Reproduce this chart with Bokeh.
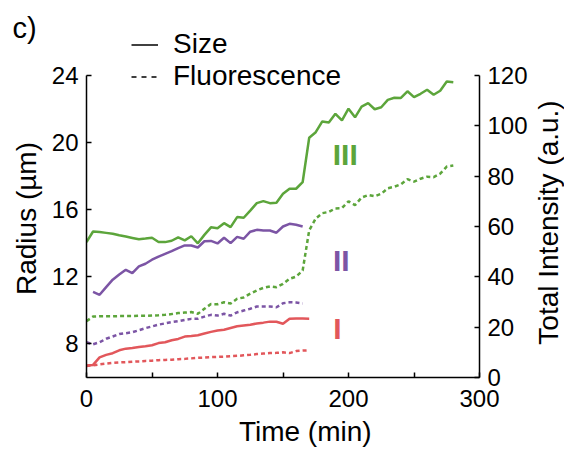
import math
from bokeh.plotting import figure
from bokeh.layouts import row
from bokeh.models import Range1d, LinearAxis, FixedTicker, Legend, LegendItem
from bokeh.core.properties import value
from bokeh.embed import file_html
from bokeh.resources import INLINE

# ---------------- data ----------------
green_t = [0, 5, 10, 15, 20, 25, 30, 35, 40, 45, 50, 55, 60, 65, 70, 75, 80, 85, 90, 95,
           100, 105, 110, 115, 120, 125, 130, 135, 140, 145, 150, 155, 160, 165, 170, 175,
           180, 185, 190, 195, 200, 205, 210, 215, 220, 225, 230, 235, 240, 245, 250, 255,
           260, 265, 270, 275, 280]
green_size = [14.07, 14.70, 14.67, 14.62, 14.57, 14.48, 14.40, 14.32, 14.24, 14.28, 14.33,
              14.08, 14.07, 14.15, 14.35, 14.17, 14.42, 14.00, 14.50, 14.95, 14.90, 15.20,
              14.96, 15.56, 15.52, 15.95, 16.39, 16.51, 16.39, 16.41, 16.95, 17.25, 17.25,
              17.64, 20.29, 20.62, 21.26, 21.20, 21.72, 21.32, 22.02, 21.51, 22.15, 22.35,
              21.99, 22.11, 22.55, 22.67, 22.66, 23.06, 22.71, 22.91, 23.15, 22.85, 23.09,
              23.64, 23.60]
green_fluor = [22.4, 24.2, 24.3, 24.3, 24.3, 24.4, 24.4, 24.4, 24.5, 24.5, 24.6, 24.7, 24.9,
               25.2, 25.6, 25.8, 26.0, 25.3, 27.3, 29.2, 29.1, 29.9, 29.4, 31.3, 31.8, 33.3,
               34.6, 35.6, 36.2, 35.9, 37.2, 39.2, 40.1, 42.5, 58.5, 63.2, 65.3, 65.8, 67.2,
               67.3, 70.0, 68.5, 71.5, 72.5, 72.0, 73.0, 75.2, 75.8, 76.8, 78.8, 77.8, 79.0,
               79.8, 79.6, 81.0, 83.8, 84.2]

purple_size_t = [5, 10, 15, 20, 25, 30, 35, 40, 45, 50, 55, 60, 65, 70, 75, 80, 85, 90, 95,
                 100, 105, 110, 115, 120, 125, 130, 135, 140, 145, 150, 155, 160, 165]
purple_size = [11.10, 10.93, 11.39, 11.83, 12.14, 12.42, 12.22, 12.62, 12.78, 13.02, 13.21,
               13.37, 13.53, 13.71, 13.87, 13.87, 13.75, 14.12, 14.14, 13.99, 14.33, 14.01,
               14.38, 14.27, 14.69, 14.80, 14.76, 14.76, 14.63, 15.00, 15.16, 15.10, 15.00]
purple_fluor_t = [0, 5, 10, 15, 20, 25, 30, 35, 40, 45, 50, 55, 60, 65, 70, 75, 80, 85, 90,
                  95, 100, 105, 110, 115, 120, 125, 130, 135, 140, 145, 150, 155, 160, 165]
purple_fluor = [14.0, 13.2, 14.0, 15.4, 16.3, 17.3, 17.6, 18.0, 18.8, 19.6, 20.3, 21.0, 21.5,
                22.0, 22.4, 22.9, 23.3, 23.3, 24.2, 24.9, 24.6, 25.3, 24.6, 25.9, 26.6, 27.3,
                28.2, 28.2, 28.2, 27.9, 29.5, 29.9, 29.8, 29.4]

red_t = [0, 5, 10, 15, 20, 25, 30, 35, 40, 45, 50, 55, 60, 65, 70, 75, 80, 85, 90, 95, 100,
         105, 110, 115, 120, 125, 130, 135, 140, 145, 150, 155, 160, 165, 170]
red_size = [6.72, 6.75, 7.20, 7.35, 7.45, 7.62, 7.72, 7.76, 7.82, 7.86, 7.92, 8.05, 8.10,
            8.22, 8.30, 8.44, 8.47, 8.52, 8.62, 8.72, 8.80, 8.85, 8.95, 9.05, 9.10, 9.15,
            9.22, 9.27, 9.33, 9.32, 9.20, 9.50, 9.52, 9.51, 9.50]
red_fluor = [4.6, 4.8, 5.2, 5.5, 5.8, 6.0, 6.1, 6.3, 6.4, 6.6, 6.7, 6.9, 7.0, 7.1, 7.3, 7.4,
             7.6, 7.8, 7.9, 8.1, 8.2, 8.3, 8.5, 8.6, 8.8, 9.0, 9.3, 9.5, 9.7, 9.8, 10.0, 9.7,
             10.5, 10.7, 10.8]

group_labels = ["III", "II", "I"]
group_label_t = [197.5, 194.5, 191.5]
group_label_r = [19.3, 12.95, 8.9]

x_ticks = [0, 100, 200, 300]
x_minor = [50, 150, 250]
left_ticks = [8, 12, 16, 20, 24]
right_ticks = [0, 20, 40, 60, 80, 100, 120]
x_label_pos = [167]  # where the "Time (min)" caption is centred (min)

GREEN = "#5ca53b"
PURPLE = "#7c55a5"
RED = "#e2575b"
FONT = "Liberation Sans"
TICK_FS = "24px"
LABEL_FS = "28px"

# ---------------- layout geometry (px) ----------------
W_TOTAL, H_TOTAL = 564, 451
LEFT_W, RIGHT_W = 44, 34
MAIN_W = W_TOTAL - LEFT_W - RIGHT_W
FRAME_LEFT, FRAME_RIGHT = 86, 479          # page x of the frame
FRAME_TOP, AXIS_TOP, FRAME_BOTTOM = 4, 75, 377   # page y
BORDER_TOP, BORDER_BOTTOM = FRAME_TOP, H_TOTAL - FRAME_BOTTOM

ext = (AXIS_TOP - FRAME_TOP) / (FRAME_BOTTOM - AXIS_TOP)
y_lo, y_hi = 6, 24
f_lo, f_hi = 0, 120

p = figure(width=MAIN_W, height=H_TOTAL,
           x_range=Range1d(0, 300),
           y_range=Range1d(y_lo, y_hi + ext * (y_hi - y_lo)),
           output_backend="svg", toolbar_location=None,
           x_axis_location=None, y_axis_location=None,
           min_border_left=FRAME_LEFT - LEFT_W,
           min_border_right=LEFT_W + MAIN_W - FRAME_RIGHT,
           min_border_top=BORDER_TOP,
           min_border_bottom=BORDER_BOTTOM)
p.extra_y_ranges = {"f": Range1d(f_lo, f_hi + ext * (f_hi - f_lo))}
p.xgrid.visible = False
p.ygrid.visible = False
p.outline_line_color = None
p.background_fill_color = "white"
p.border_fill_color = "white"


def style_axis(ax):
    ax.axis_line_color = "black"
    ax.axis_line_width = 1.5
    ax.major_tick_line_color = "black"
    ax.major_tick_line_width = 1.5
    ax.major_tick_in = 5
    ax.major_tick_out = 0
    ax.minor_tick_line_color = "black"
    ax.minor_tick_line_width = 1.5
    ax.minor_tick_in = 5
    ax.minor_tick_out = 0
    ax.major_label_text_font = FONT
    ax.major_label_text_font_size = TICK_FS
    ax.major_label_text_color = "black"


xa = LinearAxis(ticker=FixedTicker(ticks=x_ticks, minor_ticks=x_minor))
style_axis(xa)
xa.major_label_standoff = 12
p.add_layout(xa, "below")

# caption of the time axis, drawn as a single tick label so that it can sit off-centre
xcap = LinearAxis(ticker=FixedTicker(ticks=x_label_pos, minor_ticks=[]),
                  major_label_overrides={x_label_pos[0]: "Time (min)"})
xcap.axis_line_color = None
xcap.major_tick_line_color = None
xcap.minor_tick_line_color = None
xcap.major_label_standoff = 0
xcap.major_label_text_font = FONT
xcap.major_label_text_font_size = LABEL_FS
xcap.major_label_text_color = "black"
p.add_layout(xcap, "below")

ya = LinearAxis(ticker=FixedTicker(ticks=left_ticks), bounds=(y_lo, y_hi))
style_axis(ya)
ya.major_label_standoff = 8
p.add_layout(ya, "left")

ra = LinearAxis(y_range_name="f", ticker=FixedTicker(ticks=right_ticks), bounds=(f_lo, f_hi))
style_axis(ra)
ra.major_label_standoff = 8
p.add_layout(ra, "right")

# ---------------- data lines ----------------
LW = 2.5
p.line(green_t, green_size, line_color=GREEN, line_width=LW)
p.line(purple_size_t, purple_size, line_color=PURPLE, line_width=LW)
p.line(red_t, red_size, line_color=RED, line_width=LW)
p.line(green_t, green_fluor, y_range_name="f", line_color=GREEN, line_width=LW, line_dash="4 3")
p.line(purple_fluor_t, purple_fluor, y_range_name="f", line_color=PURPLE, line_width=LW, line_dash="4 3")
p.line(red_t, red_fluor, y_range_name="f", line_color=RED, line_width=LW, line_dash="4 3")

p.text(x=group_label_t, y=group_label_r, text=group_labels,
       text_color=[GREEN, PURPLE, RED], text_font=value(FONT), text_font_size="30px",
       text_font_style="bold", text_align="center", text_baseline="middle")

# ---------------- legend (style keys only, no visible data) ----------------
nan = float("nan")
r_solid = p.line(x=[nan], y=[nan], line_color="black", line_width=1.5)
r_dash = p.line(x=[nan], y=[nan], line_color="black", line_width=1.5, line_dash="5 5")
legend = Legend(items=[LegendItem(label="Size", renderers=[r_solid]),
                       LegendItem(label="Fluorescence", renderers=[r_dash])],
                location=(131 - FRAME_LEFT, FRAME_BOTTOM - 92), padding=0, margin=0, spacing=-7,
                glyph_width=27, glyph_height=29, label_height=29, label_standoff=15,
                label_text_font=FONT, label_text_font_size=LABEL_FS, label_text_color="black",
                background_fill_alpha=0, border_line_color=None)
p.add_layout(legend, "center")


def side_fig(width):
    # blank strip with the same top/bottom borders as the main plot; its data y is
    # "pixels measured up from the bottom of the page", used only to carry captions
    f = figure(width=width, height=H_TOTAL, x_range=Range1d(0, width),
               y_range=Range1d(BORDER_BOTTOM, H_TOTAL - BORDER_TOP),
               output_backend="svg", toolbar_location=None,
               x_axis_location=None, y_axis_location=None,
               min_border_left=0, min_border_right=0,
               min_border_top=BORDER_TOP, min_border_bottom=BORDER_BOTTOM)
    f.xgrid.visible = False
    f.ygrid.visible = False
    f.outline_line_color = None
    f.background_fill_color = "white"
    f.border_fill_color = "white"
    return f


left = side_fig(LEFT_W)
left.text(x=[26], y=[H_TOTAL - 218], text=["Radius (µm)"], angle=math.pi / 2,
          text_align="center", text_baseline="middle",
          text_font=value(FONT), text_font_size=LABEL_FS, text_color="black")
left.text(x=[12], y=[H_TOTAL - 27], text=["c)"], text_align="left", text_baseline="alphabetic",
          text_font=value(FONT), text_font_size="29px", text_color="black")

right = side_fig(RIGHT_W)
right.text(x=[548 - (LEFT_W + MAIN_W)], y=[H_TOTAL - 222], text=["Total Intensity (a.u.)"],
           angle=math.pi / 2, text_align="center", text_baseline="middle",
           text_font=value(FONT), text_font_size=LABEL_FS, text_color="black")

layout = row(left, p, right, spacing=0)
open("out.html", "w").write(file_html(layout, INLINE))
